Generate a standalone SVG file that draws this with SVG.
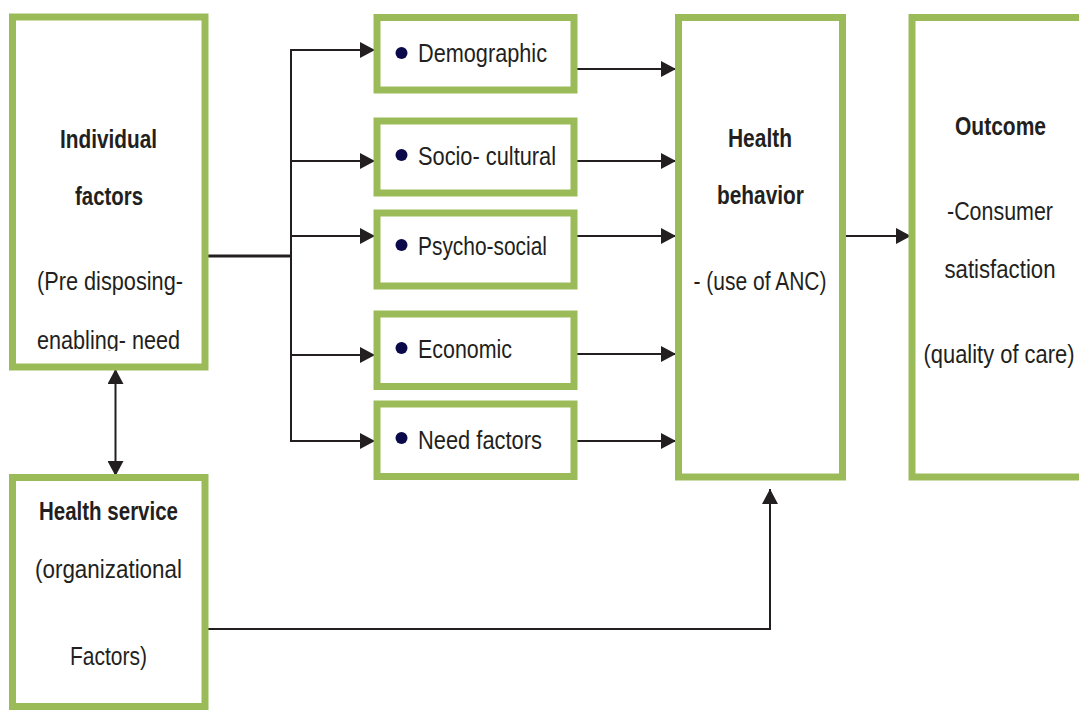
<svg xmlns="http://www.w3.org/2000/svg" width="1079" height="710" viewBox="0 0 1079 710">
<style>
.box{fill:#fff;stroke:#9bbb59;stroke-width:7}
.t{font-family:"Liberation Sans",Arial,sans-serif;font-size:26px;fill:#231f20;text-anchor:middle}
.l{text-anchor:start}
.b{font-weight:bold}
.c{fill:none;stroke:#231f20;stroke-width:2}
.dot{fill:#0a0a4a}
</style>
<defs>
<marker id="ah" viewBox="0 0 15 16" refX="15" refY="8" markerWidth="15" markerHeight="16" markerUnits="userSpaceOnUse" orient="auto-start-reverse">
<path d="M0,0 L15,8 L0,16 Z" fill="#231f20"/>
</marker>
<clipPath id="clip1"><rect x="16" y="22" width="186" height="329"/></clipPath>
</defs>
<rect width="1079" height="710" fill="#fff"/>

<g id="connectors">
<line class="c" x1="208" y1="256" x2="291" y2="256" style="stroke-width:3"/>
<line class="c" x1="291" y1="49" x2="291" y2="442"/>
<line class="c" x1="290" y1="50" x2="375" y2="50" marker-end="url(#ah)"/>
<line class="c" x1="290" y1="161" x2="375" y2="161" marker-end="url(#ah)"/>
<line class="c" x1="290" y1="236" x2="375" y2="236" marker-end="url(#ah)"/>
<line class="c" x1="290" y1="355" x2="375" y2="355" marker-end="url(#ah)"/>
<line class="c" x1="290" y1="441" x2="375" y2="441" marker-end="url(#ah)"/>
<line class="c" x1="573" y1="69" x2="676" y2="69" marker-end="url(#ah)"/>
<line class="c" x1="573" y1="161" x2="676" y2="161" marker-end="url(#ah)"/>
<line class="c" x1="573" y1="236" x2="676" y2="236" marker-end="url(#ah)"/>
<line class="c" x1="573" y1="354" x2="676" y2="354" marker-end="url(#ah)"/>
<line class="c" x1="573" y1="441" x2="676" y2="441" marker-end="url(#ah)"/>
<line class="c" x1="842" y1="236" x2="911" y2="236" marker-end="url(#ah)"/>
<line class="c" x1="115.5" y1="369" x2="115.5" y2="476" marker-start="url(#ah)" marker-end="url(#ah)"/>
<polyline class="c" points="206,629 770,629 770,489" marker-end="url(#ah)"/>
</g>

<g id="individual">
<rect class="box" x="12.5" y="17" width="192.5" height="350"/>
<text class="t b" x="108.5" y="148" textLength="97" lengthAdjust="spacingAndGlyphs">Individual</text>
<text class="t b" x="109" y="205" textLength="68" lengthAdjust="spacingAndGlyphs">factors</text>
<text class="t" x="110" y="290" textLength="146" lengthAdjust="spacingAndGlyphs">(Pre disposing-</text>
<text class="t" x="108.5" y="349" textLength="143" lengthAdjust="spacingAndGlyphs" clip-path="url(#clip1)">enabling- need</text>
</g>

<g id="healthservice">
<rect class="box" x="12.5" y="477.5" width="192.5" height="229"/>
<text class="t b" x="108.5" y="520" textLength="139" lengthAdjust="spacingAndGlyphs">Health service</text>
<text class="t" x="108.5" y="578" textLength="147" lengthAdjust="spacingAndGlyphs">(organizational</text>
<text class="t" x="108.5" y="665" textLength="77" lengthAdjust="spacingAndGlyphs">Factors)</text>
</g>

<g id="demographic">
<rect class="box" x="377" y="17.5" width="197" height="72.5"/>
<circle class="dot" cx="401.5" cy="53" r="6"/>
<text class="t l" x="418" y="62" textLength="129" lengthAdjust="spacingAndGlyphs">Demographic</text>
</g>
<g id="sociocultural">
<rect class="box" x="377" y="121" width="197" height="72"/>
<circle class="dot" cx="401.5" cy="155" r="6"/>
<text class="t l" x="418" y="165" textLength="138" lengthAdjust="spacingAndGlyphs">Socio- cultural</text>
</g>
<g id="psychosocial">
<rect class="box" x="377" y="213" width="197" height="73"/>
<circle class="dot" cx="401.5" cy="245" r="6"/>
<text class="t l" x="418" y="255" textLength="129" lengthAdjust="spacingAndGlyphs">Psycho-social</text>
</g>
<g id="economic">
<rect class="box" x="377" y="314" width="197" height="72.5"/>
<circle class="dot" cx="401.5" cy="348" r="6"/>
<text class="t l" x="418" y="357.5" textLength="94" lengthAdjust="spacingAndGlyphs">Economic</text>
</g>
<g id="needfactors">
<rect class="box" x="377" y="404" width="197" height="72.5"/>
<circle class="dot" cx="401.5" cy="438" r="6"/>
<text class="t l" x="418" y="448.5" textLength="124" lengthAdjust="spacingAndGlyphs">Need factors</text>
</g>

<g id="healthbehavior">
<rect class="box" x="678.5" y="17.5" width="164" height="459.5"/>
<text class="t b" x="760" y="147" textLength="64" lengthAdjust="spacingAndGlyphs">Health</text>
<text class="t b" x="760.5" y="204" textLength="87" lengthAdjust="spacingAndGlyphs">behavior</text>
<text class="t" x="760" y="290" textLength="133" lengthAdjust="spacingAndGlyphs">- (use of ANC)</text>
</g>

<g id="outcome">
<rect class="box" x="912" y="17.5" width="200" height="459.5"/>
<text class="t b" x="1000.5" y="135" textLength="91" lengthAdjust="spacingAndGlyphs">Outcome</text>
<text class="t" x="1000" y="220" textLength="106" lengthAdjust="spacingAndGlyphs">-Consumer</text>
<text class="t" x="1000" y="278" textLength="111" lengthAdjust="spacingAndGlyphs">satisfaction</text>
<text class="t" x="999" y="363" textLength="151" lengthAdjust="spacingAndGlyphs">(quality of care)</text>
</g>
</svg>
